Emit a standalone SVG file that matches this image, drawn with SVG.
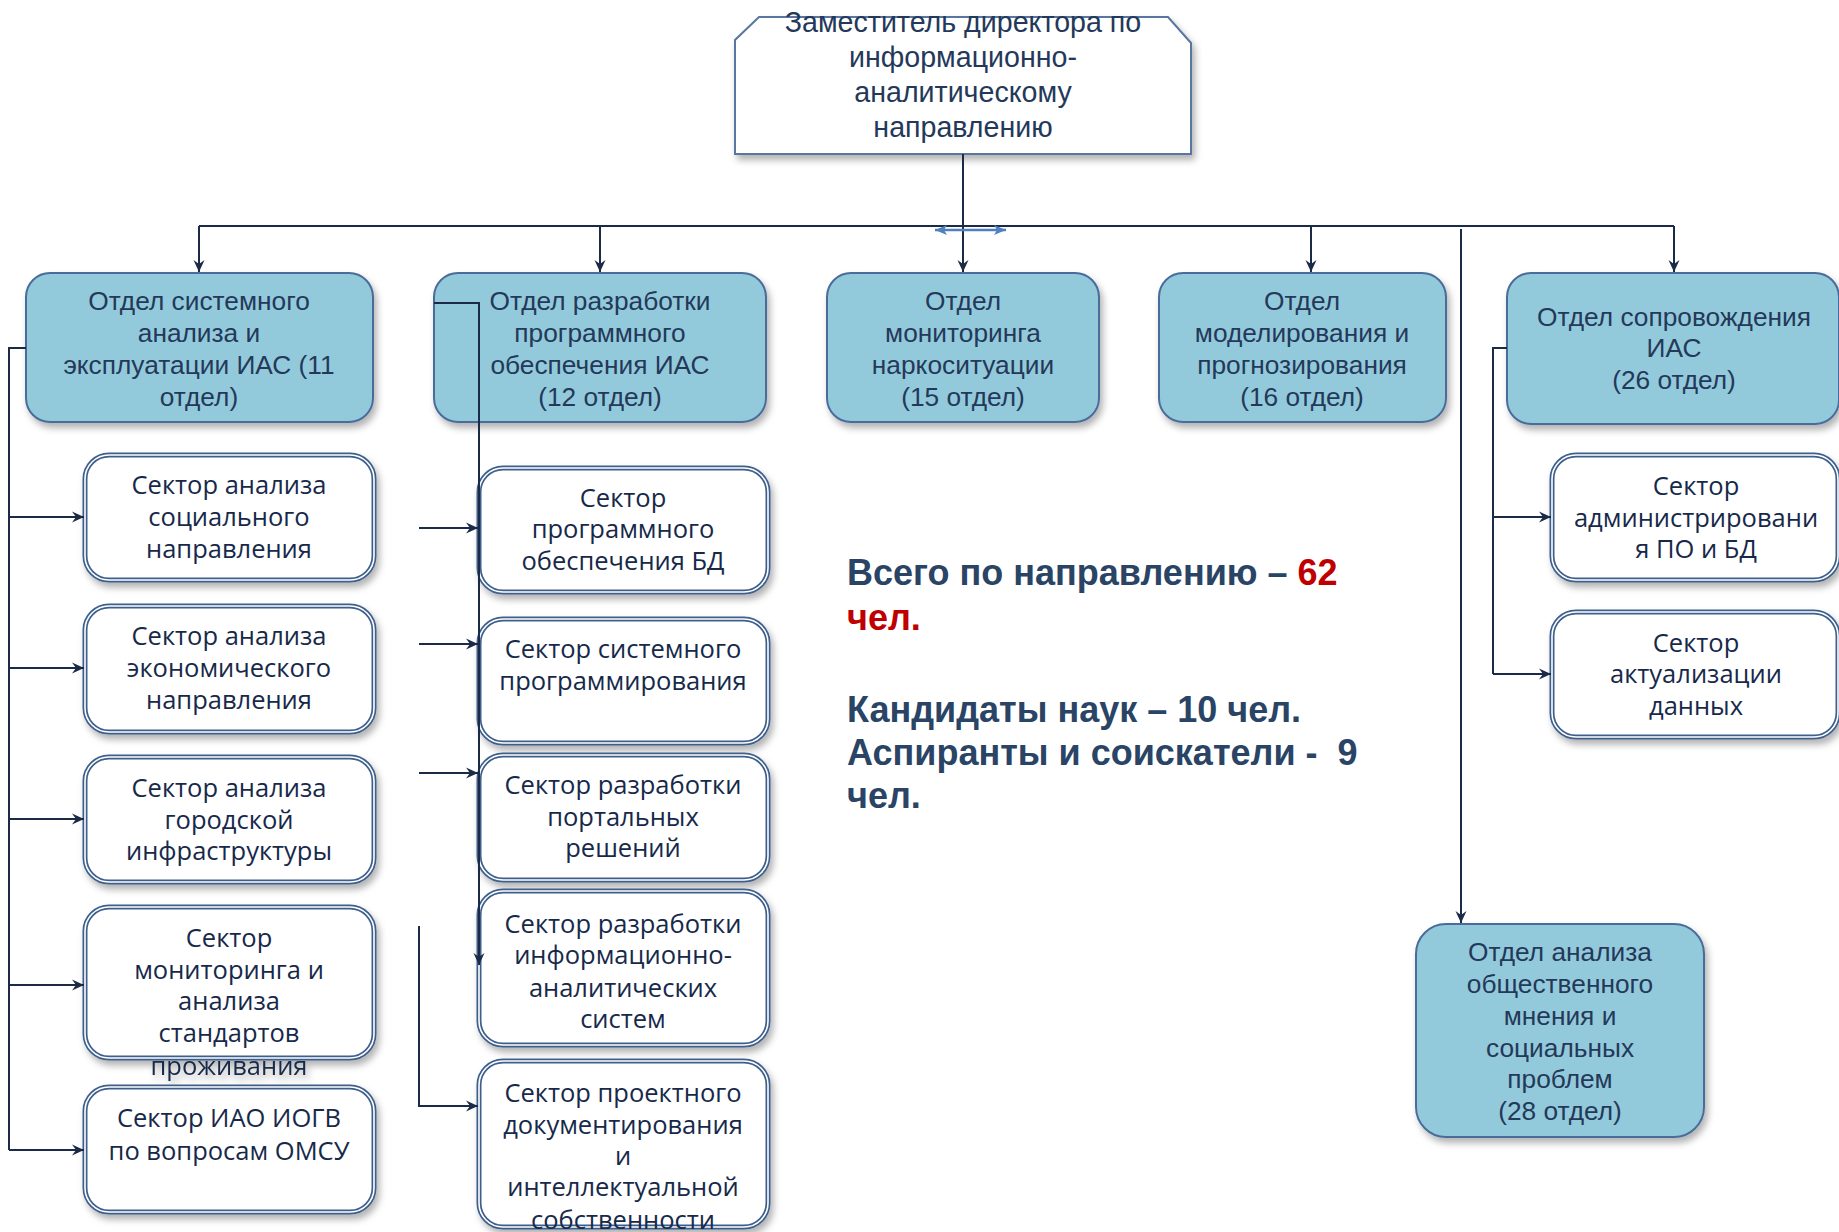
<svg xmlns="http://www.w3.org/2000/svg" width="1839" height="1232" viewBox="0 0 1839 1232">
<style>
.dept{fill:#93CADB;stroke:#4A6C9B;stroke-width:2}
.sec{fill:#FFFFFF;stroke:#3E5F8C;stroke-width:5}
.secin{fill:none;stroke:#FFFFFF;stroke-width:1.6}
.top{fill:#FFFFFF;stroke:#5876A0;stroke-width:2}
.tD{font-family:"Liberation Sans",Arial,sans-serif;font-size:26.3px;fill:#24395A;text-anchor:middle}
.tS{font-family:"Open Sans","Liberation Sans",sans-serif;font-size:25.5px;fill:#17294A;text-anchor:middle}
.tT{font-family:"Liberation Sans",Arial,sans-serif;font-size:28.6px;fill:#24395A;text-anchor:middle}
.tB{font-family:"Liberation Sans",Arial,sans-serif;font-size:36px;font-weight:bold;fill:#2A4466}
.red{fill:#C00000}
.con{fill:none;stroke:#1B2A47;stroke-width:2}
</style>
<defs>
<filter id="sh" x="-10%" y="-10%" width="125%" height="130%">
<feDropShadow dx="3" dy="5" stdDeviation="3.5" flood-color="#000" flood-opacity="0.3"/>
</filter>
<marker id="ar" markerUnits="userSpaceOnUse" markerWidth="14" markerHeight="12" refX="12" refY="6" orient="auto">
<path d="M0,0.5 L12,6 L0,11.5 L4,6 Z" fill="#1B2A47"/>
</marker>
<marker id="ab" markerUnits="userSpaceOnUse" markerWidth="14" markerHeight="12" refX="12" refY="6" orient="auto-start-reverse">
<path d="M0,1 L12,6 L0,11 L3,6 Z" fill="#4F81BD"/>
</marker>
</defs>

<g id="top-node">
<path class="top" filter="url(#sh)" d="M759,17 H1168 L1191,43 V154 H735 V40 Z"/>
<text class="tT" x="963" y="32">Заместитель директора по</text>
<text class="tT" x="963" y="67">информационно-</text>
<text class="tT" x="963" y="102">аналитическому</text>
<text class="tT" x="963" y="137">направлению</text>
</g>

<g id="dept11">
<rect class="dept" filter="url(#sh)" x="26" y="273" width="347" height="149" rx="24"/>
<text class="tD" x="199" y="310">Отдел системного</text>
<text class="tD" x="199" y="342">анализа и</text>
<text class="tD" x="199" y="374">эксплуатации ИАС (11</text>
<text class="tD" x="199" y="406">отдел)</text>
</g>
<g id="dept12">
<rect class="dept" filter="url(#sh)" x="434" y="273" width="332" height="149" rx="24"/>
<text class="tD" x="600" y="310">Отдел разработки</text>
<text class="tD" x="600" y="342">программного</text>
<text class="tD" x="600" y="374">обеспечения ИАС</text>
<text class="tD" x="600" y="406">(12 отдел)</text>
</g>
<g id="dept15">
<rect class="dept" filter="url(#sh)" x="827" y="273" width="272" height="149" rx="24"/>
<text class="tD" x="963" y="310">Отдел</text>
<text class="tD" x="963" y="342">мониторинга</text>
<text class="tD" x="963" y="374">наркоситуации</text>
<text class="tD" x="963" y="406">(15 отдел)</text>
</g>
<g id="dept16">
<rect class="dept" filter="url(#sh)" x="1159" y="273" width="287" height="149" rx="24"/>
<text class="tD" x="1302" y="310">Отдел</text>
<text class="tD" x="1302" y="342">моделирования и</text>
<text class="tD" x="1302" y="374">прогнозирования</text>
<text class="tD" x="1302" y="406">(16 отдел)</text>
</g>
<g id="dept26">
<rect class="dept" filter="url(#sh)" x="1507" y="273" width="332" height="151" rx="24"/>
<text class="tD" x="1674" y="326">Отдел сопровождения</text>
<text class="tD" x="1674" y="357">ИАС</text>
<text class="tD" x="1674" y="389">(26 отдел)</text>
</g>
<g id="dept28">
<rect class="dept" filter="url(#sh)" x="1416" y="924" width="288" height="213" rx="30"/>
<text class="tD" x="1560" y="961">Отдел анализа</text>
<text class="tD" x="1560" y="993">общественного</text>
<text class="tD" x="1560" y="1025">мнения и</text>
<text class="tD" x="1560" y="1057">социальных</text>
<text class="tD" x="1560" y="1088">проблем</text>
<text class="tD" x="1560" y="1120">(28 отдел)</text>
</g>

<g id="sec-social">
<rect class="sec" filter="url(#sh)" x="85" y="455" width="289" height="125" rx="24"/>
<rect class="secin" x="85" y="455" width="289" height="125" rx="24"/>
<text class="tS" x="229" y="494">Сектор анализа</text>
<text class="tS" x="229" y="526">социального</text>
<text class="tS" x="229" y="558">направления</text>
</g>
<g id="sec-econ">
<rect class="sec" filter="url(#sh)" x="85" y="606" width="289" height="126" rx="24"/>
<rect class="secin" x="85" y="606" width="289" height="126" rx="24"/>
<text class="tS" x="229" y="645">Сектор анализа</text>
<text class="tS" x="229" y="677">экономического</text>
<text class="tS" x="229" y="709">направления</text>
</g>
<g id="sec-city">
<rect class="sec" filter="url(#sh)" x="85" y="757" width="289" height="125" rx="24"/>
<rect class="secin" x="85" y="757" width="289" height="125" rx="24"/>
<text class="tS" x="229" y="797">Сектор анализа</text>
<text class="tS" x="229" y="829">городской</text>
<text class="tS" x="229" y="860">инфраструктуры</text>
</g>
<g id="sec-std">
<rect class="sec" filter="url(#sh)" x="85" y="907" width="289" height="151" rx="24"/>
<rect class="secin" x="85" y="907" width="289" height="151" rx="24"/>
<text class="tS" x="229" y="947">Сектор</text>
<text class="tS" x="229" y="979">мониторинга и</text>
<text class="tS" x="229" y="1010">анализа</text>
<text class="tS" x="229" y="1042">стандартов</text>
<text class="tS" x="229" y="1075" filter="url(#sh)">проживания</text>
</g>
<g id="sec-omsu">
<rect class="sec" filter="url(#sh)" x="85" y="1087" width="289" height="125" rx="24"/>
<rect class="secin" x="85" y="1087" width="289" height="125" rx="24"/>
<text class="tS" x="229" y="1127">Сектор ИАО ИОГВ</text>
<text class="tS" x="229" y="1160">по вопросам ОМСУ</text>
</g>

<g id="sec-bd">
<rect class="sec" filter="url(#sh)" x="479" y="468" width="289" height="124" rx="24"/>
<rect class="secin" x="479" y="468" width="289" height="124" rx="24"/>
<text class="tS" x="623" y="507">Сектор</text>
<text class="tS" x="623" y="538">программного</text>
<text class="tS" x="623" y="570">обеспечения БД</text>
</g>
<g id="sec-sys">
<rect class="sec" filter="url(#sh)" x="479" y="619" width="289" height="124" rx="24"/>
<rect class="secin" x="479" y="619" width="289" height="124" rx="24"/>
<text class="tS" x="623" y="658">Сектор системного</text>
<text class="tS" x="623" y="690">программирования</text>
</g>
<g id="sec-portal">
<rect class="sec" filter="url(#sh)" x="479" y="755" width="289" height="125" rx="24"/>
<rect class="secin" x="479" y="755" width="289" height="125" rx="24"/>
<text class="tS" x="623" y="794">Сектор разработки</text>
<text class="tS" x="623" y="826">портальных</text>
<text class="tS" x="623" y="857">решений</text>
</g>
<g id="sec-ias">
<rect class="sec" filter="url(#sh)" x="479" y="891" width="289" height="154" rx="24"/>
<rect class="secin" x="479" y="891" width="289" height="154" rx="24"/>
<text class="tS" x="623" y="933">Сектор разработки</text>
<text class="tS" x="623" y="964">информационно-</text>
<text class="tS" x="623" y="997">аналитических</text>
<text class="tS" x="623" y="1028">систем</text>
</g>
<g id="sec-doc">
<rect class="sec" filter="url(#sh)" x="479" y="1061" width="289" height="166" rx="24"/>
<rect class="secin" x="479" y="1061" width="289" height="166" rx="24"/>
<text class="tS" x="623" y="1102">Сектор проектного</text>
<text class="tS" x="623" y="1134">документирования</text>
<text class="tS" x="623" y="1165">и</text>
<text class="tS" x="623" y="1196">интеллектуальной</text>
<text class="tS" x="623" y="1229">собственности</text>
</g>

<g id="sec-admin">
<rect class="sec" filter="url(#sh)" x="1552" y="455" width="286" height="125" rx="24"/>
<rect class="secin" x="1552" y="455" width="286" height="125" rx="24"/>
<text class="tS" x="1696" y="495">Сектор</text>
<text class="tS" x="1696" y="527">администрировани</text>
<text class="tS" x="1696" y="558">я ПО и БД</text>
</g>
<g id="sec-actual">
<rect class="sec" filter="url(#sh)" x="1552" y="612" width="286" height="125" rx="24"/>
<rect class="secin" x="1552" y="612" width="286" height="125" rx="24"/>
<text class="tS" x="1696" y="652">Сектор</text>
<text class="tS" x="1696" y="683">актуализации</text>
<text class="tS" x="1696" y="715">данных</text>
</g>

<g id="summary">
<text class="tB" x="847" y="585">Всего по направлению – <tspan class="red">62</tspan></text>
<text class="tB red" x="847" y="630">чел.</text>
<text class="tB" x="847" y="722">Кандидаты наук – 10 чел.</text>
<text class="tB" x="847" y="765">Аспиранты и соискатели -&#160; 9</text>
<text class="tB" x="847" y="808">чел.</text>
</g>

<g id="connectors">
<path class="con" d="M199,226 H1674"/>
<path class="con" marker-end="url(#ar)" d="M963,154 V272"/>
<path class="con" marker-end="url(#ar)" d="M199,226 V272"/>
<path class="con" marker-end="url(#ar)" d="M600,226 V272"/>
<path class="con" marker-end="url(#ar)" d="M1311,226 V272"/>
<path class="con" marker-end="url(#ar)" d="M1674,226 V272"/>
<path class="con" marker-end="url(#ar)" d="M1461,229 V923"/>
<path fill="none" stroke="#4F81BD" stroke-width="2.5" marker-start="url(#ab)" marker-end="url(#ab)" d="M935,230 H1006"/>
<path class="con" d="M26,348 H9 V1150"/>
<path class="con" marker-end="url(#ar)" d="M9,517 H84"/>
<path class="con" marker-end="url(#ar)" d="M9,668 H84"/>
<path class="con" marker-end="url(#ar)" d="M9,819 H84"/>
<path class="con" marker-end="url(#ar)" d="M9,985 H84"/>
<path class="con" marker-end="url(#ar)" d="M9,1150 H84"/>
<path class="con" marker-end="url(#ar)" d="M434,303 H479 V965"/>
<path class="con" marker-end="url(#ar)" d="M419,528 H478"/>
<path class="con" marker-end="url(#ar)" d="M419,644 H478"/>
<path class="con" marker-end="url(#ar)" d="M419,773 H478"/>
<path class="con" marker-end="url(#ar)" d="M419,926 V1106 H478"/>
<path class="con" d="M1507,348 H1493 V674"/>
<path class="con" marker-end="url(#ar)" d="M1493,517 H1551"/>
<path class="con" marker-end="url(#ar)" d="M1493,674 H1551"/>
</g>
</svg>
